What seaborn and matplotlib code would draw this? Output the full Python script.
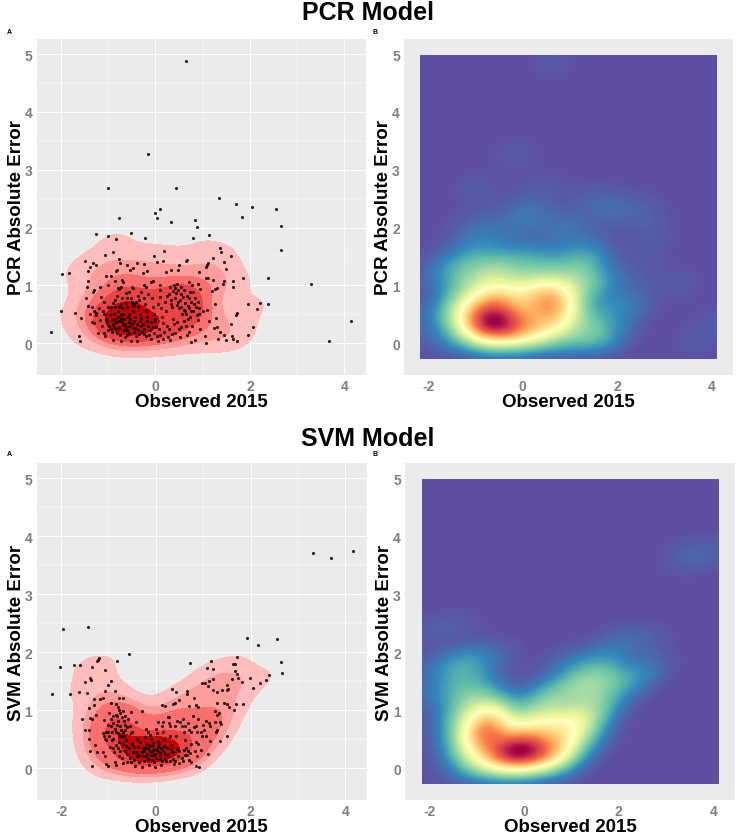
import matplotlib
matplotlib.use("Agg")
import pandas as pd
import seaborn as sns
import matplotlib.pyplot as plt
from matplotlib.colors import ListedColormap

# valores
obs_pcr = [0.65,-0.16,-1.0,0.44,1.34,1.71,2.05,2.56,0.10,-0.78,
    -0.02,0.04,0.33,0.83,0.89,1.83,2.66,2.66,-1.27,-1.0,
    -0.52,-0.84,-0.23,0.79,1.14,0.18,1.36,1.38,-0.91,-1.06,
    -0.04,1.21,1.60,-1.49,-0.78,-1.33,-1.27,-1.43,-1.38,-0.75,
    -0.6,-0.47,-0.40,-0.53,-0.25,-0.27,-0.17,0.03,0.17,0.22,
    0.32,0.47,0.49,0.64,0.66,0.93,1.12,1.1,1.08,1.46,
    1.5,-0.83,-0.81,-1.05,-1.42,-1.46,-1.3,-1.33,-1.18,-1.0,
    -0.95,-0.85,-0.7,-0.68,-0.8,-0.77,-0.72,-0.5,-0.48,-0.24,
    -0.2,-0.1,-0.05,0.1,0.1,0.3,0.4,0.45,0.42,0.55,
    0.7,0.77,0.9,0.95,1.08,1.12,1.22,1.26,1.3,1.44,
    1.46,1.65,1.65,1.85,2.38,3.3,1.97,2.15,2.22,2.38,
    2.07,3.68,4.15,-2.21,-2.0,-1.98,-1.83,-1.7,-1.57,-1.62,
    -1.6,-1.47,-1.42,-1.35,-1.38,-1.35,-1.3,-1.25,-1.22,-1.15,
    -1.1,-1.2,-1.12,-1.08,-1.05,-1.13,-1.09,-1.07,-1.0,-0.95,
    -0.97,-0.93,-0.9,-0.88,-0.92,-0.9,-0.85,-0.82,-0.8,-0.8,
    -0.78,-0.77,-0.75,-0.74,-0.72,-0.7,-0.68,-0.68,-0.66,-0.65,
    -0.63,-0.6,-0.58,-0.57,-0.55,-0.55,-0.52,-0.5,-0.48,-0.47,
    -0.45,-0.43,-0.42,-0.4,-0.38,-0.36,-0.33,-0.32,-0.3,-0.28,
    -0.25,-0.22,-0.2,-0.2,-0.18,-0.15,-0.12,-0.1,-0.08,-0.05,
    -0.03,0,0.02,0.04,0.06,0.1,0.12,0.14,0.16,0.18,
    0.2,0.22,0.24,0.26,0.3,0.32,0.35,0.37,0.4,0.42,
    0.44,0.47,0.5,0.5,0.52,0.55,0.57,0.6,0.62,0.64,
    0.66,0.7,0.72,0.74,0.75,0.78,0.8,0.82,0.84,0.87,
    0.9,0.93,0.95,1.0,1.07,1.1,1.13,1.2,1.25,1.27,
    1.28,1.33,1.37,1.45,1.5,1.6,1.62,1.65,1.72,1.72,
    1.95,1.7,1.3,1.05,-1.3,-1.25,-1.18,-1.02,-0.98,-0.95,
    -0.88,-0.86,-0.84,-0.83,-0.81,-0.74,-0.72,-0.7,-0.66,-0.64,
    -0.62,-0.6,-0.6,-0.56,-0.53,-0.5,-0.48,-0.46,-0.44,-0.4,
    -0.38,-0.35,-0.3,-0.27,-0.25,-0.24,-0.17,-0.14,-0.1,-0.06,
    -0.04,-0.02,0.08,0.1,0.16,0.28,0.34,0.45,0.55,0.65,
    0.68,0.7,0.75,-1.0,-0.85,-0.6,-0.42,0.05,0.28,0.6,
    0.25,0.33,0.38,0.41,0.46,0.48,0.52,0.54,0.58,0.6,
    0.63,0.66,0.68,0.73,0.76,0.8,0.83,0.86,0.9,0.92,
    -0.9,-0.78,-0.7,-0.62,-0.55,-0.52,-0.45,-0.35,-0.3,-0.15]
err_pcr = [4.88,3.28,2.68,2.69,2.51,2.40,2.35,2.32,2.32,2.17,
    2.25,2.16,2.10,2.13,2.01,2.19,2.02,1.62,1.88,1.86,
    1.90,1.81,1.82,1.82,1.87,1.60,1.64,1.57,1.57,1.53,
    1.51,1.48,1.50,1.42,1.46,1.38,1.35,1.24,1.31,1.38,
    1.36,1.30,1.38,1.27,1.37,1.22,1.24,1.41,1.42,1.23,
    1.27,1.27,1.35,1.42,1.43,1.23,1.38,1.35,1.32,1.41,
    1.28,1.25,1.27,1.17,1.08,0.97,0.92,0.89,0.98,1.0,
    1.17,1.08,1.09,1.06,0.95,0.93,0.98,0.98,0.95,1.0,
    0.98,1.06,1.08,1.0,0.92,0.98,1.0,1.02,0.96,0.98,
    1.05,1.0,1.02,0.93,1.13,1.12,1.1,0.93,0.95,1.03,
    1.07,1.07,0.98,1.12,1.12,1.03,0.68,0.59,0.7,0.68,
    0.28,0.03,0.38,0.2,0.55,1.19,1.22,0.52,0.44,0.12,
    0.03,0.78,0.65,0.62,0.5,0.37,0.35,0.52,0.18,0.8,
    0.72,0.6,0.55,0.5,0.42,0.3,0.17,0.12,0.22,0.62,
    0.48,0.4,0.33,0.28,0.2,0.05,0.75,0.82,0.55,0.45,
    0.38,0.27,0.14,0.03,0.68,0.6,0.5,0.32,0.22,0.1,
    0.87,0.78,0.45,0.36,0.3,0.18,0.04,0.72,0.65,0.55,
    0.38,0.27,0.13,0.04,0.82,0.62,0.5,0.38,0.3,0.2,
    0.78,0.68,0.56,0.12,0.38,0.3,0.22,0.07,0.78,0.62,
    0.5,0.38,0.28,0.12,0.03,0.8,0.6,0.45,0.35,0.2,
    0.72,0.55,0.3,0.1,0.06,0.75,0.62,0.42,0.33,0.18,
    0.87,0.72,0.6,0.25,0.1,0.85,0.5,0.38,0.7,0.3,
    0.15,0.78,0.6,0.45,0.02,0.3,0.88,0.68,0.05,0.48,
    0.4,0.6,0.25,0.55,0.01,0.58,0.38,0.9,0.27,0.67,
    0.43,0.07,0.2,0.15,0.05,0.33,0.13,0.07,0.03,0.52,
    0.14,0.48,0.28,0.12,0.55,0.48,0.4,0.36,0.3,0.25,
    0.5,0.42,0.36,0.24,0.18,0.48,0.42,0.36,0.42,0.34,
    0.28,0.22,0.14,0.5,0.42,0.33,0.26,0.2,0.46,0.34,
    0.22,0.16,0.43,0.34,0.25,0.16,0.46,0.15,0.36,0.28,
    0.18,0.42,0.24,0.15,0.08,0.24,0.16,0.36,0.28,0.5,
    0.42,0.2,0.55,0.62,0.62,0.62,0.72,0.68,0.85,0.58,
    0.82,0.68,0.9,0.78,0.66,0.92,0.74,0.62,0.8,0.92,
    0.55,0.82,0.65,0.88,0.72,0.55,0.78,0.62,0.72,0.5,
    0.7,0.62,0.78,0.7,0.88,0.78,0.68,0.75,0.88,0.85]

obs_svm = [3.32,3.70,4.16,-1.97,-1.44,1.93,2.15,2.56,2.65,2.66,
    2.39,2.32,2.2,2.06,1.99,1.71,1.64,1.68,1.16,0.72,
    -0.56,-0.83,-1.19,-1.22,-1.25,-2.03,-1.72,-1.61,-2.2,-1.82,
    -1.63,-1.45,-1.5,-1.4,-1.36,-1.34,-1.07,-0.94,-1.0,-1.08,
    -0.87,-0.78,-0.69,0.35,0.42,0.65,0.66,0.81,0.97,1.04,
    1.13,1.21,1.09,1.21,1.1,1.2,1.3,1.39,1.5,1.52,
    1.5,1.6,1.72,1.67,1.74,1.83,-1.3,-1.18,-1.12,-0.95,
    -0.85,-0.8,-0.78,-0.75,-0.82,-0.72,-0.68,-0.65,-0.52,-0.3,
    0.13,0.2,0.36,0.4,0.48,0.7,0.85,0.9,1.3,1.44,
    1.26,1.3,1.33,1.5,1.55,1.65,1.7,1.85,1.35,1.38,
    1.3,1.27,1.35,1.5,1.15,1.1,1.25,1.12,1.07,1.14,
    -1.55,-1.42,-1.4,-1.35,-1.3,-1.27,-1.42,-1.5,-1.42,-1.38,
    -1.28,-1.25,-1.35,-1.1,-1.12,-1.1,-1.07,-1.05,-1.0,-1.12,
    -1.08,-1.05,-1.0,-0.98,-0.95,-0.92,-0.9,-0.88,-0.87,-0.85,
    -0.82,-0.8,-0.77,-0.75,-0.72,-0.7,-0.68,-0.63,-0.6,-0.6,
    -0.58,-0.55,-0.53,-0.5,-0.48,-0.47,-0.45,-0.42,-0.4,-0.38,
    -0.36,-0.35,-0.3,-0.28,-0.25,-0.22,-0.2,-0.18,-0.17,-0.15,
    -0.2,-0.16,-0.13,-0.11,-0.09,-0.07,-0.05,-0.04,-0.02,-0.17,
    0,0.02,0.04,0.05,0.07,0.08,0.1,0.13,0.15,0.17,
    0.18,0.2,0.22,0.25,0.27,0.3,0.32,0.34,0.36,0.38,
    0.28,0.3,0.4,0.43,0.45,0.47,0.5,0.52,0.55,0.58,
    0.6,0.62,0.64,0.66,0.68,0.7,0.72,0.75,0.78,0.8,
    0.82,0.84,0.87,0.9,0.92,0.95,1.0,1.02,0.98,0.88,
    -0.46,-0.42,-0.4,-0.33,-0.3,-0.27,-0.24,-0.22,-0.2,-0.14,
    -0.12,-0.1,-0.08,-0.06,-0.03,-0.01,0.01,0.03,0.06,0.09,
    0.11,0.13,0.16,0.19,0.23,0.26,0.29,0.33,0.37,0.41,
    -0.75,-0.7,-0.66,-0.62,-0.56,-0.54,-0.52,-0.5,0.5,0.55,
    0.58,0.6,0.62,0.68,0.7,-0.85,-0.93,-0.97,-0.78,-0.65,
    -0.95,-0.9,-0.87,-0.84,-0.8,-0.76,-0.74,-0.7,-0.66,-0.6,
    -0.98,-0.9,-0.85,-0.8,-0.72,-0.7,0.05,0.15,0.45,0.62,
    0.75,0.85,0.95,0.75,0.85,1.05,0.9,-1.0,-1.05,-0.9]
err_svm = [3.70,3.63,3.75,2.4,2.44,2.25,2.13,2.22,1.83,1.64,
    1.6,1.52,1.46,1.38,1.55,1.92,1.8,1.79,1.85,1.82,
    1.96,1.84,1.89,1.87,1.85,1.74,1.78,1.77,1.28,1.28,
    1.31,1.3,1.48,1.55,1.52,1.74,1.69,1.5,1.44,1.33,
    1.33,1.21,1.21,1.37,1.31,1.33,1.27,1.21,1.46,1.47,
    1.5,1.53,1.72,1.71,1.42,1.35,1.32,1.35,1.34,1.37,
    1.44,1.53,1.62,1.67,1.55,1.48,1.19,1.19,1.2,1.12,
    1.1,1.05,1.0,0.95,0.9,0.88,0.82,0.75,0.96,0.99,
    1.08,1.07,1.1,1.12,1.18,1.07,1.08,1.06,1.12,1.12,
    0.98,0.92,0.95,1.1,1.05,1.0,1.1,1.1,0.8,0.76,
    0.65,0.63,0.47,0.55,0.46,0.25,0.8,0.78,0.82,0.72,
    0.85,1.03,0.87,0.85,1.09,0.92,0.65,0.65,0.5,0.3,
    0.4,0.27,0.04,0.83,0.6,0.55,0.5,0.48,0.62,0.28,
    0.2,0.07,0.03,0.95,0.72,0.62,0.35,0.27,0.1,0.05,
    0.75,0.6,0.45,0.3,0.18,0.08,0.55,0.38,0.25,0.1,
    0.85,0.72,0.6,0.42,0.28,0.14,0.04,0.8,0.5,0.36,
    0.22,0.1,0.02,0.35,0.3,0.53,0.42,0.25,0.15,0.05,
    0.68,0.62,0.57,0.5,0.38,0.3,0.22,0.1,0.02,0.35,
    0.68,0.6,0.47,0.36,0.28,0.15,0.05,0.72,0.62,0.48,
    0.38,0.24,0.12,0.88,0.78,0.55,0.4,0.27,0.15,0.07,
    0.88,0.72,0.72,0.55,0.33,0.2,0.09,0.8,0.72,0.85,
    0.62,0.48,0.35,0.22,0.78,0.65,0.26,0.1,0.9,0.7,
    0.3,0.03,0.62,0.85,0.02,0.32,0.75,0.65,0.55,0.2,
    0.36,0.28,0.2,0.45,0.28,0.2,0.12,0.35,0.2,0.4,
    0.3,0.22,0.14,0.44,0.33,0.25,0.18,0.32,0.42,0.22,
    0.35,0.13,0.3,0.16,0.34,0.22,0.12,0.33,0.28,0.12,
    0.55,0.42,0.3,0.48,0.34,0.18,0.1,0.62,0.3,0.18,
    0.12,0.32,0.22,0.3,0.14,0.4,0.48,0.36,0.2,0.65,
    0.85,0.78,0.68,0.92,0.82,0.72,0.65,0.98,0.9,0.7,
    0.55,0.5,0.62,0.35,0.55,0.62,0.8,0.8,0.82,0.72,
    0.62,0.72,0.62,0.42,0.45,0.55,0.42,0.75,0.62,0.9]

x_ticks = [-2, 0, 2, 4]
y_ticks = [0, 1, 2, 3, 4, 5]
reds = ["#ffbdbd", "#ff9c9c", "#fb6f6f", "#ec4444", "#d81e1e", "#c20404"]

sns.set_style("darkgrid", {"axes.facecolor": "#ebebeb", "grid.color": "white"})
plt.rcParams["font.family"] = ["Liberation Sans", "DejaVu Sans"]
plt.rcParams["axes.unicode_minus"] = False

W, H = 737, 837
fig = plt.figure(figsize=(W / 100, H / 100), dpi=100)


def nuevo_panel(left, right, top, bottom):
    ax = fig.add_axes([left / W, 1 - bottom / H, (right - left) / W, (bottom - top) / H])
    ax.set_xlim(-2.52, 4.46)
    ax.set_ylim(-0.55, 5.26)
    ax.set_xticks(x_ticks)
    ax.set_yticks(y_ticks)
    ax.tick_params(labelsize=10, labelcolor="#808080", length=0, pad=3)
    for lab in ax.get_xticklabels() + ax.get_yticklabels():
        lab.set_fontweight("bold")
    for s in ax.spines.values():
        s.set_visible(False)
    return ax


def etiquetas(ax, ylabel):
    ax.set_xlabel("Observed 2015", fontsize=13.5, fontweight="bold", color="black", labelpad=0)
    ax.set_ylabel(ylabel, fontsize=13.5, fontweight="bold", color="black", labelpad=0)
    ax.set_xlim(-2.52, 4.46)
    ax.set_ylim(-0.55, 5.26)


def puntos(ax, x, y, ylabel):
    df = pd.DataFrame({"obs": x, "err": y})
    ax.set_xticks([-1, 1, 3], minor=True)
    ax.set_yticks([0.5, 1.5, 2.5, 3.5, 4.5], minor=True)
    ax.tick_params(which="minor", length=0)
    ax.grid(True, which="major", color="white", linewidth=0.7)
    ax.grid(True, which="minor", color="white", linewidth=0.35)
    ax.set_axisbelow(True)
    sns.kdeplot(data=df, x="obs", y="err", ax=ax, fill=True, levels=[0.13, 0.28, 0.42, 0.56, 0.7, 0.85, 1],
                cmap=ListedColormap(reds), bw_adjust=0.9, gridsize=200, cut=4)
    sns.scatterplot(data=df, x="obs", y="err", ax=ax, color="black", s=5, linewidth=0, alpha=0.85, zorder=5)
    etiquetas(ax, ylabel)


def mapa(ax, x, y, ylabel):
    df = pd.DataFrame({"obs": x, "err": y})
    ax.grid(False)
    sns.kdeplot(data=df, x="obs", y="err", ax=ax, fill=True, levels=250, thresh=0, cmap="Spectral_r",
                bw_adjust=0.9, gridsize=250, cut=10,
                clip=((-2.16, 4.12), (-0.27, 4.97)), antialiased=False)
    etiquetas(ax, ylabel)


ax1 = nuevo_panel(36.5, 366, 40, 376)
puntos(ax1, obs_pcr, err_pcr, "PCR Absolute Error")
ax2 = nuevo_panel(404, 733, 40, 376)
mapa(ax2, obs_pcr, err_pcr, "PCR Absolute Error")
ax3 = nuevo_panel(36.5, 367, 464, 801)
puntos(ax3, obs_svm, err_svm, "SVM Absolute Error")
ax4 = nuevo_panel(405, 735, 464, 801)
mapa(ax4, obs_svm, err_svm, "SVM Absolute Error")

fig.text(368 / W, 1 - 13 / H, "PCR Model", ha="center", va="center", fontsize=18, fontweight="bold", color="black")
fig.text(368 / W, 1 - 439 / H, "SVM Model", ha="center", va="center", fontsize=18, fontweight="bold", color="black")
for px, py, letra in [(9, 32, "A"), (375, 32, "B"), (9, 455, "A"), (375, 455, "B")]:
    fig.text(px / W, 1 - py / H, letra, ha="center", va="center", fontsize=5, fontweight="bold", color="black")

plt.savefig("out.png", dpi=100)
